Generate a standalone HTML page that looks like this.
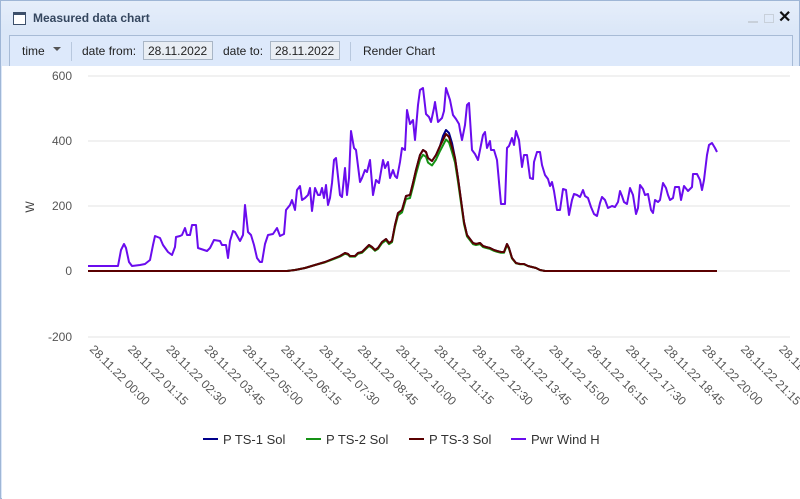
<!DOCTYPE html>
<html><head><meta charset="utf-8"><style>
body{margin:0;width:800px;height:499px;overflow:hidden;background:#dce8f7;font-family:"Liberation Sans",sans-serif;}
.win{position:absolute;left:0;top:0;width:798px;height:497px;border:1px solid #9fb6d6;background:linear-gradient(#e6eefa,#dbe7f8 30px);}
.title{position:absolute;left:32px;top:10px;font-weight:bold;font-size:12px;color:#35475f;}
.ico{position:absolute;left:12px;top:11px;width:11px;height:9px;border:1px solid #3c4f6a;border-top-width:3px;background:#fff;}
.tb{position:absolute;left:8px;top:34px;width:782px;height:30px;border:1px solid #a7bbd6;background:#dde9fb;font-size:12px;color:#222;}
.tb span{position:absolute;top:8px;}
.inp{position:absolute;top:5px;height:19px;border:1px solid #a9b6c6;background:#e9eef4;font-size:12px;line-height:19px;padding-left:4px;box-sizing:border-box;}
.sep{position:absolute;top:6px;width:1px;height:19px;background:#b8c8de;}
.chart{position:absolute;left:2px;top:66px;width:798px;height:433px;background:#fff;}
</style></head><body>
<div class="win">
<div class="ico"></div><div class="title">Measured data chart</div>
<div style="position:absolute;left:747px;top:20px;width:10px;height:2px;background:#c8d0da"></div>
<div style="position:absolute;left:763px;top:13px;width:8px;height:7px;border:1px solid #c8d0da"></div>
<div style="position:absolute;left:777px;top:6px;font-size:16px;font-weight:bold;color:#111">✕</div>
<div class="tb">
<span style="left:12px">time</span><span style="left:43px;top:11px;border:4px solid transparent;border-top:4px solid #555;width:0;height:0"></span>
<div class="sep" style="left:61px"></div>
<span style="left:72px">date from:</span><div class="inp" style="left:133px;width:70px">28.11.2022</div>
<span style="left:213px">date to:</span><div class="inp" style="left:260px;width:70px">28.11.2022</div>
<div class="sep" style="left:340px"></div>
<span style="left:353px">Render Chart</span>
</div>
</div>
<div class="chart"></div>
<svg id="s" width="800" height="499" style="position:absolute;left:0;top:0" font-family="Liberation Sans, sans-serif"></svg>
<script>
var s=document.getElementById('s'),h='';
var ys=[[600,76],[400,141],[200,206],[0,271],[-200,337]];
ys.forEach(function(a){h+='<line x1="88" x2="790" y1="'+a[1]+'" y2="'+a[1]+'" stroke="#e3e3e3"/>';h+='<text x="72" y="'+(a[1]+4)+'" font-size="12" fill="#555" text-anchor="end">'+a[0]+'</text>';});
h+='<text transform="translate(34,207) rotate(-90)" font-size="12" fill="#444" text-anchor="middle">W</text>';
var lb=['00:00','01:15','02:30','03:45','05:00','06:15','07:30','08:45','10:00','11:15','12:30','13:45','15:00','16:15','17:30','18:45','20:00','21:15','22:30'];
lb.forEach(function(t,i){var x=89+i*38.3;h+='<text transform="translate('+x+',350) rotate(45)" font-size="12" fill="#555">28.11.22 '+t+'</text>';});
var w=[88,266,118,266,121,250,124,244,126,248,129,262,132,266,140,265,145,264,150,260,153,245,155,236,160,238,163,245,168,252,172,255,175,247,176,237,180,236,182,235,185,228,187,235,190,235,192,225,196,225,198,248,204,250,207,251,210,248,214,240,220,241,222,245,226,245,228,258,230,241,233,231,235,232,240,241,243,235,245,205,248,232,251,235,254,245,257,258,260,262,262,262,265,244,268,235,273,234,277,228,280,236,284,234,286,210,290,205,292,200,295,210,297,190,300,186,302,200,305,198,308,195,310,188,312,211,315,188,318,195,320,195,322,188,324,198,326,185,328,205,330,198,332,183,334,160,336,158,340,195,342,197,345,168,347,195,349,178,351,131,354,148,356,150,360,182,362,178,365,170,367,172,370,160,373,195,376,180,379,183,383,160,385,168,388,162,390,178,393,170,395,176,397,178,400,162,402,148,405,150,407,110,410,124,413,120,415,140,418,105,420,90,423,88,426,114,429,117,431,122,434,108,435,102,438,122,442,118,444,111,446,88,450,100,453,115,456,119,459,124,460,130,462,140,465,125,467,105,469,103,472,150,475,154,478,160,480,150,483,135,485,132,487,148,490,141,491,150,494,150,497,160,501,204,505,204,507,148,509,146,512,138,514,145,516,131,519,140,522,167,524,155,527,155,530,178,533,179,534,162,537,152,540,152,542,165,545,175,548,179,550,186,552,182,554,191,557,210,560,210,563,189,566,190,569,215,572,200,574,194,577,195,580,197,583,190,585,196,588,198,591,207,594,214,597,216,600,203,602,197,605,200,608,208,612,206,615,207,618,202,620,191,622,196,624,202,627,204,630,188,633,195,636,214,638,208,640,185,643,189,645,195,648,194,651,210,653,213,655,200,658,202,660,200,663,183,666,188,668,195,670,200,673,198,675,187,679,187,681,200,684,186,688,191,692,187,693,174,697,174,700,180,702,190,704,180,707,155,709,145,712,143,715,148,717,152];
var sol=[88,271,287,271,295,270,305,268,315,265,325,262,335,258,340,256,345,253,348,254,350,256,355,256,358,253,362,252,366,248,369,245,372,247,375,250,378,248,382,242,386,239,389,243,392,241,395,225,398,213,402,210,406,196,410,195,413,183,416,170,420,155,423,150,426,152,428,158,432,161,436,155,440,146,443,140,446,134,449,137,452,147,455,158,458,178,461,200,464,222,467,235,470,239,473,243,476,244,480,243,483,246,486,247,490,248,494,250,497,251,501,252,504,252,507,244,509,248,512,258,516,263,520,264,524,264,528,266,532,267,536,268,540,270,545,271,717,271];
function pl(a,c,f){var p=[];for(var i=0;i<a.length;i+=2){var y=a[i+1];p.push(a[i]+','+(f?f(a[i],y):y));}return '<polyline points="'+p.join(' ')+'" fill="none" stroke="'+c+'" stroke-width="2" stroke-linejoin="round"/>';}
h+=pl(sol,'#00008b',function(x,y){return y<200&&x>440&&x<455?y-4:y;});
h+=pl(sol,'#159215',function(x,y){return y<265?y+(271-y)*0.04:y;});
h+=pl(sol,'#5a0000');
h+=pl(w,'#6a0cee');
var lg=[[203,'#00008b','P TS-1 Sol'],[306,'#159215','P TS-2 Sol'],[409,'#5a0000','P TS-3 Sol'],[511,'#6a0cee','Pwr Wind H']];
lg.forEach(function(l){h+='<line x1="'+l[0]+'" x2="'+(l[0]+15)+'" y1="439" y2="439" stroke="'+l[1]+'" stroke-width="2"/><text x="'+(l[0]+20)+'" y="444" font-size="13" fill="#333">'+l[2]+'</text>';});
s.innerHTML=h;
</script>
</body></html>
